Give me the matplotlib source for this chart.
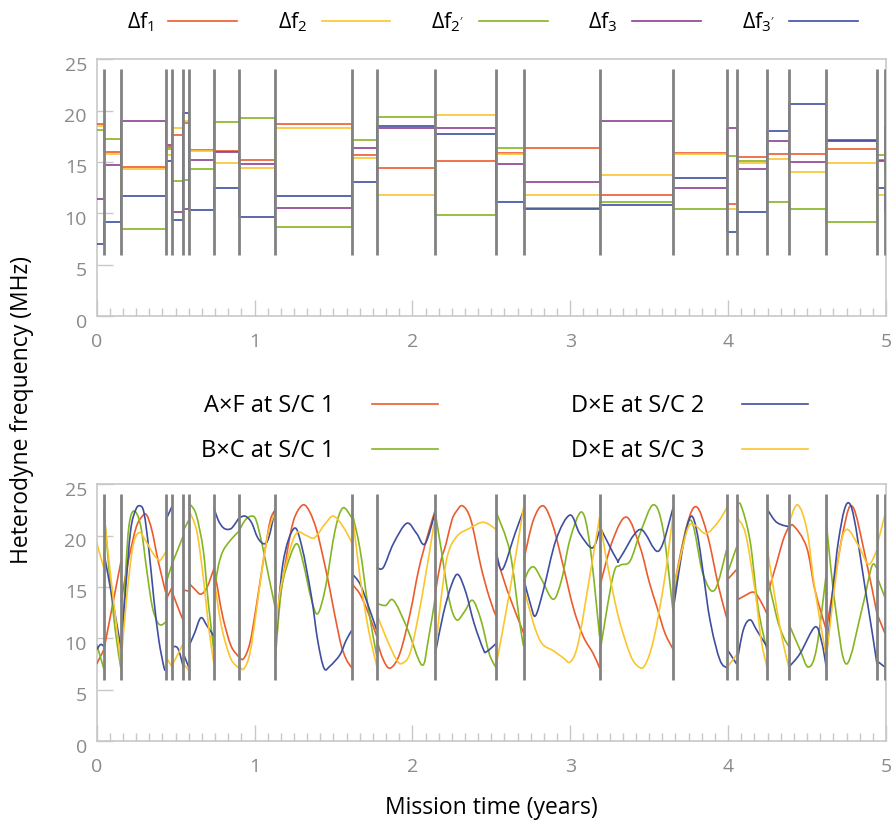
import numpy as np
import matplotlib

matplotlib.use("Agg")
import matplotlib.pyplot as plt
from matplotlib.lines import Line2D
from matplotlib.patches import PathPatch
from matplotlib.path import Path
from matplotlib.ticker import MultipleLocator
from matplotlib.transforms import ScaledTranslation

plt.rcParams["font.family"] = ["Open Sans", "DejaVu Sans"]
plt.rcParams["mathtext.fontset"] = "custom"
plt.rcParams["mathtext.rm"] = "Open Sans"
plt.rcParams["mathtext.it"] = "Open Sans:italic"
plt.rcParams["mathtext.default"] = "regular"

RED = "#ec5b2d"
YELLOW = "#fbc52d"
GREEN = "#85b522"
PURPLE = "#8c3f93"
BLUE = "#3f4ea0"
SWITCH_GRAY = "#828282"
FRAME_GRAY = "#c8c8c8"
LABEL_GRAY = "#8a8a8a"

# times (years) at which the locking configuration switches
switch_times = [0.046, 0.154, 0.437, 0.479, 0.549, 0.583, 0.743, 0.900, 1.131,
                1.617, 1.774, 2.145, 2.531, 2.705, 3.186, 3.653, 3.995, 4.054,
                4.246, 4.385, 4.622, 4.943, 4.993]
edges = [0.0] + switch_times + [5.0]

# beat-note offsets per configuration (MHz)
df1 = [18.7, 15.95, 14.54, 16.45, 17.65, 18.76, 16.15, 16.1, 15.22, 18.7, 15.68, 14.41,
       15.09, 15.9, 16.39, 11.8, 15.9, 10.94, 15.45, 15.81, 15.74, 16.23, 15.22, 15.3]
df2 = [18.55, 15.81, 14.35, 15.7, 18.3, 19.02, 16.07, 14.93, 14.41, 18.34, 15.35, 11.8,
       19.57, 15.74, 11.8, 13.76, 15.77, 10.45, 14.9, 15.32, 13.99, 14.9, 11.8, 11.8]
df2p = [18.08, 17.27, 8.5, 16.25, 13.15, 13.2, 14.35, 18.92, 19.31, 8.7, 17.14, 19.35,
        9.83, 16.39, 10.55, 11.13, 10.45, 15.58, 15.09, 11.13, 10.45, 9.18, 15.7, 14.25]
df3 = [11.42, 14.67, 19.02, 16.7, 10.16, 10.45, 15.22, 15.97, 14.83, 10.48, 16.36, 18.34,
       18.34, 14.8, 13.08, 18.99, 12.43, 18.3, 14.35, 17.0, 14.96, 17.17, 15.06, 18.43]
df3p = [7.04, 9.18, 11.68, 15.05, 9.32, 19.8, 10.32, 12.46, 9.67, 11.68, 13.1, 18.5,
        17.72, 11.13, 10.45, 10.8, 13.47, 8.21, 10.16, 18.05, 20.64, 17.07, 12.43, 10.1]

# heterodyne frequencies, one list of (year, MHz) points per configuration
af_s1 = [
    [(0, 7.5), (0.046, 8.9)],
    [(0.046, 8.9), (0.1, 13.2), (0.154, 17.5)],
    [(0.154, 13.5), (0.2, 17.5), (0.25, 20.8), (0.29, 21.9), (0.317, 22.0), (0.35, 20.5), (0.39, 17.5), (0.437, 14.5)],
    [(0.437, 13.7), (0.479, 15.0)],
    [(0.479, 14.5), (0.51, 13.2), (0.549, 11.7)],
    [(0.549, 14.7), (0.583, 14.6)],
    [(0.583, 15.4), (0.62, 14.8), (0.66, 14.3), (0.7, 15.0), (0.743, 16.8)],
    [(0.743, 16.8), (0.77, 14.5), (0.8, 12.0), (0.85, 9.3), (0.9, 8.2)],
    [(0.9, 8.2), (0.93, 8.0), (0.97, 9.5), (1.01, 13.0), (1.06, 18.0), (1.1, 21.5), (1.131, 22.5)],
    [(1.131, 10.5), (1.161, 14.0), (1.224, 19.9), (1.26, 22.0), (1.309, 23.0), (1.35, 22.3), (1.394, 20.5),
     (1.44, 17.5), (1.478, 14.7), (1.541, 9.8), (1.58, 8.0), (1.617, 7.1)],
    [(1.617, 15.3), (1.668, 14.3), (1.72, 12.5), (1.774, 10.2)],
    [(1.774, 9.8), (1.816, 7.9), (1.86, 7.1), (1.92, 8.5), (1.985, 12.4), (2.04, 16.7), (2.1, 20.2), (2.145, 22.5)],
    [(2.145, 14.4), (2.18, 17.5), (2.213, 19.2), (2.25, 21.5), (2.276, 22.3), (2.318, 22.9), (2.371, 21.5),
     (2.434, 17.0), (2.487, 14.0), (2.531, 12.1)],
    [(2.531, 18.1), (2.6, 14.7), (2.705, 10.5)],
    [(2.705, 17.6), (2.766, 21.5), (2.829, 22.9), (2.892, 20.9), (2.956, 17.0), (3.019, 13.0), (3.082, 10.2),
     (3.146, 8.5), (3.186, 7.1)],
    [(3.186, 15.0), (3.27, 19.6), (3.357, 21.8), (3.442, 18.9), (3.5, 15.5), (3.55, 13.0), (3.6, 10.5), (3.653, 8.9)],
    [(3.653, 14.7), (3.737, 20.9), (3.8, 22.8), (3.87, 20.0), (3.94, 15.0), (3.995, 11.8)],
    [(3.995, 15.7), (4.054, 16.7)],
    [(4.054, 13.7), (4.1, 14.1), (4.16, 14.5), (4.2, 13.8), (4.246, 12.4)],
    [(4.246, 14.1), (4.307, 17.3), (4.349, 19.6), (4.385, 20.9)],
    [(4.385, 20.5), (4.412, 21.0), (4.497, 18.9), (4.55, 14.7), (4.622, 10.8)],
    [(4.622, 10.8), (4.73, 20.5), (4.79, 22.8), (4.87, 17.9), (4.943, 12.4)],
    [(4.943, 12.4), (4.993, 10.5)],
    [(4.993, 11.0), (5.0, 11.0)],
]
bc_s1 = [
    [(0, 9.4), (0.046, 7.0)],
    [(0.046, 22.6), (0.084, 15.7), (0.12, 10.5), (0.154, 7.0)],
    [(0.154, 7.2), (0.183, 16.3), (0.205, 21.0), (0.236, 22.4), (0.278, 21.0), (0.32, 16.3), (0.352, 13.1),
     (0.384, 11.6), (0.41, 11.3), (0.437, 11.6)],
    [(0.437, 15.3), (0.479, 17.3)],
    [(0.479, 17.3), (0.549, 20.0)],
    [(0.549, 20.5), (0.583, 21.5)],
    [(0.583, 22.9), (0.6, 22.9), (0.633, 21.9), (0.675, 18.6), (0.707, 13.5), (0.743, 8.7)],
    [(0.743, 14.5), (0.77, 17.0), (0.8, 18.5), (0.85, 19.6), (0.9, 20.4)],
    [(0.9, 20.4), (0.94, 21.5), (0.98, 21.9), (1.01, 21.5), (1.05, 19.0), (1.09, 16.0), (1.131, 13.0)],
    [(1.131, 7.9), (1.17, 14.7), (1.224, 17.9), (1.27, 19.2), (1.309, 17.3), (1.36, 13.8), (1.4, 12.4),
     (1.45, 15.0), (1.51, 20.5), (1.56, 22.7), (1.617, 21.7)],
    [(1.617, 22.3), (1.668, 18.7), (1.72, 13.0), (1.774, 8.3)],
    [(1.774, 13.4), (1.83, 13.2), (1.88, 13.7), (1.964, 11.1), (2.06, 7.4), (2.1, 9.8), (2.145, 14.0)],
    [(2.145, 22.2), (2.18, 18.9), (2.234, 13.7), (2.28, 11.8), (2.33, 12.6), (2.381, 13.7), (2.434, 11.8),
     (2.487, 8.5), (2.531, 7.1)],
    [(2.531, 22.3), (2.618, 18.4), (2.68, 11.5), (2.705, 9.2)],
    [(2.705, 15.5), (2.74, 16.7), (2.774, 16.9), (2.82, 15.7), (2.892, 13.8), (2.945, 15.7), (2.998, 19.6),
     (3.072, 22.3), (3.125, 19.0), (3.186, 10.2)],
    [(3.186, 8.5), (3.27, 16.0), (3.315, 17.1), (3.378, 17.5), (3.442, 20.2), (3.526, 23.0), (3.589, 20.5),
     (3.653, 12.4)],
    [(3.653, 13.8), (3.756, 21.5), (3.84, 16.3), (3.915, 14.7), (3.995, 18.9)],
    [(3.995, 16.3), (4.054, 18.9)],
    [(4.054, 22.7), (4.08, 23.0), (4.139, 19.5), (4.19, 13.0), (4.246, 8.8)],
    [(4.246, 16.3), (4.307, 12.1), (4.349, 10.2), (4.385, 9.2)],
    [(4.385, 11.4), (4.455, 8.9), (4.508, 7.2), (4.56, 9.0), (4.622, 16.3)],
    [(4.622, 21.2), (4.68, 13.0), (4.75, 7.5), (4.85, 13.0), (4.91, 17.0), (4.943, 16.8)],
    [(4.943, 16.0), (4.993, 14.0)],
    [(4.993, 17.0), (5.0, 17.0)],
]
de_s2 = [
    [(0, 8.9), (0.025, 9.4), (0.046, 9.2)],
    [(0.046, 18.3), (0.1, 13.8), (0.154, 9.0)],
    [(0.154, 9.0), (0.183, 14.7), (0.215, 20.5), (0.247, 22.5), (0.274, 22.9), (0.3, 22.2), (0.331, 18.6),
     (0.363, 13.7), (0.394, 9.8), (0.426, 7.2), (0.437, 6.9)],
    [(0.437, 21.5), (0.479, 22.9)],
    [(0.479, 9.2), (0.515, 9.0), (0.549, 7.2)],
    [(0.549, 8.5), (0.583, 7.2)],
    [(0.583, 9.2), (0.62, 10.5), (0.66, 12.0), (0.7, 11.2), (0.743, 10.2)],
    [(0.743, 22.7), (0.77, 21.5), (0.8, 20.8), (0.83, 20.6), (0.86, 20.8), (0.9, 21.7)],
    [(0.9, 21.7), (0.94, 21.9), (0.98, 21.3), (1.02, 19.8), (1.06, 19.2), (1.09, 19.8), (1.131, 22.6)],
    [(1.131, 9.2), (1.18, 17.3), (1.25, 20.7), (1.3, 18.9), (1.36, 14.1), (1.4, 9.8), (1.44, 7.1),
     (1.478, 7.3), (1.541, 8.4), (1.58, 9.8), (1.617, 10.8)],
    [(1.617, 16.3), (1.668, 15.3), (1.72, 13.2), (1.774, 10.8)],
    [(1.774, 16.9), (1.816, 16.9), (1.879, 19.2), (1.964, 21.2), (2.027, 20.2), (2.08, 19.2), (2.145, 22.3)],
    [(2.145, 8.5), (2.196, 12.4), (2.25, 15.3), (2.29, 16.2), (2.34, 14.4), (2.39, 11.5), (2.45, 8.9),
     (2.47, 8.7), (2.531, 9.5)],
    [(2.531, 18.4), (2.57, 16.7), (2.65, 20.2), (2.705, 22.5)],
    [(2.705, 15.8), (2.75, 13.2), (2.78, 12.2), (2.83, 14.7), (2.91, 19.6), (2.998, 22.0), (3.06, 20.2),
     (3.14, 18.8), (3.186, 20.5)],
    [(3.186, 20.9), (3.294, 17.7), (3.315, 17.8), (3.442, 20.6), (3.56, 18.5), (3.653, 22.8)],
    [(3.653, 13.0), (3.77, 21.9), (3.885, 11.8), (3.948, 7.9), (3.995, 7.1)],
    [(3.995, 8.9), (4.054, 7.5)],
    [(4.054, 7.5), (4.096, 10.8), (4.139, 11.8), (4.181, 10.8), (4.246, 9.2)],
    [(4.246, 22.6), (4.3, 21.4), (4.349, 21.0), (4.385, 20.9)],
    [(4.385, 7.2), (4.455, 8.5), (4.55, 11.1), (4.592, 9.7), (4.622, 7.2)],
    [(4.622, 8.2), (4.7, 19.6), (4.775, 23.0), (4.87, 14.7), (4.943, 7.5)],
    [(4.943, 7.8), (4.993, 7.2)],
    [(4.993, 7.0), (5.0, 7.0)],
]
de_s3 = [
    [(0, 19.3), (0.046, 16.8)],
    [(0.046, 22.0), (0.1, 14.5), (0.154, 7.5)],
    [(0.154, 7.5), (0.19, 14.0), (0.23, 19.0), (0.27, 20.3), (0.31, 19.5), (0.36, 18.2), (0.4, 17.6), (0.437, 18.4)],
    [(0.437, 8.2), (0.479, 7.2)],
    [(0.479, 7.4), (0.549, 9.5)],
    [(0.549, 7.5), (0.583, 6.9)],
    [(0.583, 22.5), (0.633, 20.5), (0.675, 16.0), (0.71, 11.0), (0.743, 7.5)],
    [(0.743, 16.0), (0.77, 13.0), (0.8, 10.5), (0.85, 8.0), (0.9, 7.1)],
    [(0.9, 7.4), (0.93, 7.0), (0.97, 8.5), (1.01, 12.5), (1.05, 17.0), (1.09, 20.5), (1.131, 22.3)],
    [(1.131, 9.8), (1.161, 14.5), (1.224, 18.6), (1.27, 20.3), (1.33, 20.0), (1.38, 19.8), (1.45, 21.2),
     (1.5, 21.9), (1.56, 20.9), (1.617, 19.3)],
    [(1.617, 22.5), (1.668, 16.0), (1.72, 11.0), (1.774, 7.3)],
    [(1.774, 12.4), (1.83, 10.2), (1.9, 7.9), (1.94, 7.6), (1.99, 8.8), (2.06, 14.0), (2.145, 21.9)],
    [(2.145, 8.5), (2.175, 13.0), (2.22, 17.9), (2.28, 19.9), (2.36, 20.7), (2.45, 21.3), (2.531, 20.6)],
    [(2.531, 7.4), (2.618, 14.7), (2.705, 22.8)],
    [(2.705, 15.0), (2.766, 11.5), (2.82, 9.5), (2.892, 8.8), (2.956, 8.1), (3.0, 7.7), (3.05, 9.5),
     (3.12, 15.7), (3.186, 21.8)],
    [(3.186, 21.8), (3.22, 18.5), (3.27, 14.5), (3.315, 11.5), (3.378, 8.5), (3.42, 7.4), (3.47, 7.3),
     (3.53, 10.0), (3.6, 16.0), (3.653, 22.3)],
    [(3.653, 14.7), (3.74, 20.5), (3.79, 21.0), (3.86, 20.2), (3.94, 21.4), (3.995, 22.8)],
    [(3.995, 7.2), (4.054, 8.4)],
    [(4.054, 21.8), (4.11, 20.2), (4.17, 14.7), (4.21, 9.8), (4.246, 7.2)],
    [(4.246, 18.9), (4.307, 13.0), (4.349, 9.5), (4.385, 7.2)],
    [(4.385, 21.2), (4.44, 23.0), (4.5, 20.5), (4.55, 14.7), (4.622, 8.2)],
    [(4.622, 8.2), (4.7, 17.9), (4.75, 20.6), (4.83, 18.9), (4.89, 17.2), (4.943, 18.6)],
    [(4.943, 19.0), (4.993, 22.0)],
    [(4.993, 22.5), (5.0, 22.8)],
]

top_labels = [r"$\Delta$f$_1$", r"$\Delta$f$_2$", r"$\Delta$f$_{2'}$", r"$\Delta$f$_3$", r"$\Delta$f$_{3'}$"]
bottom_labels = ["A×F at S/C 1", "B×C at S/C 1", "D×E at S/C 2", "D×E at S/C 3"]

FS = 15.5
TICK_FS = 14


def smooth_path(points):
    """Cubic Bezier path (Catmull-Rom style) through the given points."""
    pts = np.asarray(points, dtype=float)
    verts = [pts[0]]
    codes = [Path.MOVETO]
    n = len(pts)
    for i in range(n - 1):
        p_prev = pts[max(i - 1, 0)]
        p0, p1 = pts[i], pts[i + 1]
        p_next = pts[min(i + 2, n - 1)]
        verts += [p0 + (p1 - p_prev) / 6, p1 - (p_next - p0) / 6, p1]
        codes += [Path.CURVE4] * 3
    return Path(verts, codes)


def style_axes(ax):
    ax.set_xlim(0, 5)
    ax.set_ylim(0, 25)
    ax.set_xticks(range(6))
    ax.xaxis.set_minor_locator(MultipleLocator(1 / 12))
    ax.set_yticks(range(0, 26, 5))
    for side in ("top", "right", "bottom", "left"):
        ax.spines[side].set_color(FRAME_GRAY)
        ax.spines[side].set_linewidth(1.2)
    ax.tick_params(which="both", direction="in", color=FRAME_GRAY, width=1.0,
                   top=False, right=False, labelcolor=LABEL_GRAY, labelsize=TICK_FS)
    ax.tick_params(which="major", length=11.5)
    ax.tick_params(which="minor", length=5.8)
    ax.tick_params(axis="x", pad=12)
    ax.tick_params(axis="y", pad=7)
    # y labels sit a little below their tick lines
    shift = ScaledTranslation(0, -0.045, ax.figure.dpi_scale_trans)
    for label in ax.get_yticklabels():
        label.set_transform(label.get_transform() + shift)
    ax.vlines(switch_times, 5.9, 24.05, colors=SWITCH_GRAY, linewidth=2.0, zorder=4)


fig = plt.figure(figsize=(8.96, 8.26), dpi=100)
ax_top = fig.add_axes([0.1079, 0.6174, 0.8809, 0.3108])
ax_bot = fig.add_axes([0.1079, 0.1029, 0.8809, 0.3108])

top_colors = [RED, YELLOW, GREEN, PURPLE, BLUE]
for vals, color in zip([df1, df2, df2p, df3, df3p], top_colors):
    ax_top.stairs(vals, edges, baseline=None, color=color, linewidth=1.2, zorder=3)
style_axes(ax_top)

bot_colors = [RED, GREEN, BLUE, YELLOW]
for segments, color in zip([af_s1, bc_s1, de_s2, de_s3], bot_colors):
    for seg in segments:
        ax_bot.add_patch(PathPatch(smooth_path(seg), fill=False, edgecolor=color,
                                   linewidth=1.2, zorder=3, capstyle="butt"))
style_axes(ax_bot)

top_handles = [Line2D([], [], color=c, linewidth=1.2) for c in top_colors]
fig.legend(top_handles, top_labels, loc="center", bbox_to_anchor=(0.5497, 0.973), ncol=5,
           frameon=False, markerfirst=False, handlelength=3.2, handletextpad=0.65,
           columnspacing=1.9, fontsize=FS)

bot_handles = [Line2D([], [], color=c, linewidth=1.2) for c in bot_colors]
fig.legend(bot_handles, bottom_labels, loc="center", bbox_to_anchor=(0.563, 0.481), ncol=2,
           frameon=False, markerfirst=False, handlelength=2.8, handletextpad=1.6,
           columnspacing=5.6, labelspacing=0.9, fontsize=17)

fig.text(22 / 896, 1 - 410 / 826, "Heterodyne frequency (MHz)", rotation=90,
         ha="center", va="center", fontsize=16.5)
fig.text(491 / 896, 1 - 808 / 826, "Mission time (years)", ha="center", va="center", fontsize=16.5)

fig.savefig("out.png", dpi=100)
